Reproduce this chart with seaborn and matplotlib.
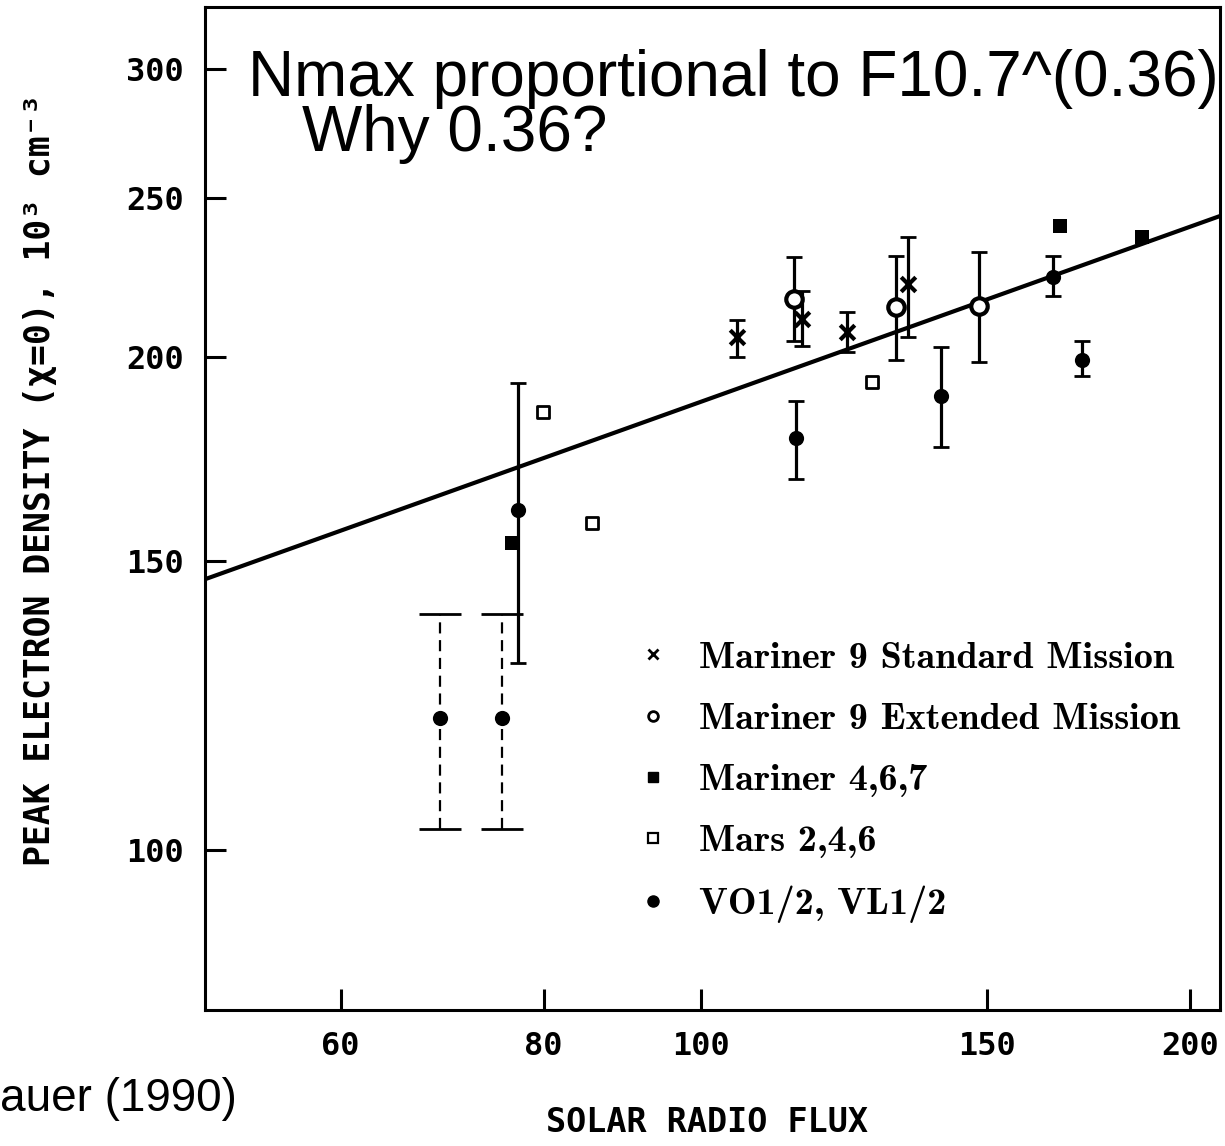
import numpy as np
import pandas as pd
import matplotlib
matplotlib.use("Agg")
import matplotlib.pyplot as plt
import seaborn as sns
from matplotlib.lines import Line2D
from matplotlib.ticker import FixedLocator, FixedFormatter, NullLocator

# ---------------- data ----------------
std_flux = [105.2, 115.4, 123.0, 134.1]
std_dens = [205.7, 211.0, 207.2, 221.6]
std_lo = [200.0, 203.1, 201.4, 205.7]
std_hi = [210.7, 219.5, 213.1, 236.7]

ext_flux = [114.1, 131.8, 148.3]
ext_dens = [217.0, 214.5, 214.8]
ext_lo = [204.5, 199.3, 198.6]
ext_hi = [230.2, 230.5, 231.8]

m467_flux = [76.5, 166.4, 186.9]
m467_dens = [153.9, 240.4, 236.7]

mars_flux = [79.9, 85.7, 127.4]
mars_dens = [185.0, 158.3, 193.0]

vo_flux = [77.2, 114.4, 140.5, 164.7, 171.7]
vo_dens = [161.2, 178.4, 189.3, 223.8, 199.3]
vo_lo = [130.1, 168.4, 176.2, 217.9, 194.7]
vo_hi = [192.8, 187.9, 202.8, 230.5, 204.5]

vod_flux = [69.1, 75.4]
vod_dens = [120.4, 120.4]
vod_lo = [102.9, 102.9]
vod_hi = [139.3, 139.3]

fit_flux = [49.5, 208.7]
fit_dens = [146.3, 243.9]

x_ticks = [60, 80, 100, 150, 200]
y_ticks = [100, 150, 200, 250, 300]

legend_labels = ["Mariner 9 Standard Mission", "Mariner 9 Extended Mission",
                 "Mariner 4,6,7", "Mars 2,4,6", "VO1/2, VL1/2"]

# ---------------- figure ----------------
sns.set_style("white")
plt.rcParams["font.family"] = ["DejaVu Sans Mono", "DejaVu Sans"]
plt.rcParams["text.color"] = "black"
plt.rcParams["axes.labelcolor"] = "black"
plt.rcParams["xtick.color"] = "black"
plt.rcParams["ytick.color"] = "black"
plt.rcParams["xtick.direction"] = "in"
plt.rcParams["ytick.direction"] = "in"
plt.rcParams["xtick.bottom"] = True
plt.rcParams["ytick.left"] = True

fig = plt.figure(figsize=(12.25, 11.46), dpi=100)
ax = fig.add_axes([205 / 1225, 1 - 1010 / 1146, 1015 / 1225, 1003 / 1146])
ax.set_xscale("log")
ax.set_yscale("log")

# fit line
sns.lineplot(x=fit_flux, y=fit_dens, ax=ax, color="black", linewidth=3, zorder=2)


def errbars(x, y, lo, hi, caps=6, dashed=False):
    y = np.asarray(y)
    err = [y - np.asarray(lo), np.asarray(hi) - y]
    eb = ax.errorbar(x, y, yerr=err, fmt="none", ecolor="black",
                     elinewidth=1.6 if dashed else 2.3, capsize=caps,
                     capthick=2.0, zorder=2)
    if dashed:
        for lc in eb[2]:
            lc.set_linestyle((0, (5, 3)))
    return eb


errbars(std_flux, std_dens, std_lo, std_hi)
errbars(ext_flux, ext_dens, ext_lo, ext_hi)
errbars(vo_flux, vo_dens, vo_lo, vo_hi)
errbars(vod_flux, vod_dens, vod_lo, vod_hi, caps=15, dashed=True)

# markers
sns.scatterplot(x=std_flux, y=std_dens, ax=ax, marker="x", s=110,
                color="black", linewidth=3, zorder=3)
sns.scatterplot(x=ext_flux, y=ext_dens, ax=ax, marker="o", s=140,
                color="white", edgecolor="black", linewidth=3, zorder=3)
sns.scatterplot(x=m467_flux, y=m467_dens, ax=ax, marker="s", s=110,
                color="black", edgecolor="black", linewidth=0, zorder=3)
sns.scatterplot(x=mars_flux, y=mars_dens, ax=ax, marker="s", s=70,
                color="white", edgecolor="black", linewidth=2, zorder=3)
sns.scatterplot(x=vo_flux, y=vo_dens, ax=ax, marker="o", s=120,
                color="black", edgecolor="black", linewidth=0, zorder=3)
sns.scatterplot(x=vod_flux, y=vod_dens, ax=ax, marker="o", s=120,
                color="black", edgecolor="black", linewidth=0, zorder=3)

ax.set_xlim(49.5, 208.7)
ax.set_ylim(79.8, 327.3)

ax.xaxis.set_major_locator(FixedLocator(x_ticks))
ax.xaxis.set_major_formatter(FixedFormatter([str(t) for t in x_ticks]))
ax.yaxis.set_major_locator(FixedLocator(y_ticks))
ax.yaxis.set_major_formatter(FixedFormatter([str(t) for t in y_ticks]))
ax.xaxis.set_minor_locator(NullLocator())
ax.yaxis.set_minor_locator(NullLocator())
ax.tick_params(axis="both", which="major", direction="in", length=15, width=2.2,
               labelsize=23, pad=15, colors="black",
               bottom=True, left=True, top=False, right=False)
for lab in ax.get_xticklabels() + ax.get_yticklabels():
    lab.set_fontfamily("DejaVu Sans Mono")
    lab.set_fontweight("bold")

for sp in ax.spines.values():
    sp.set_visible(True)
    sp.set_linewidth(2.2)
    sp.set_color("black")

# legend
handles = [
    Line2D([], [], ls="none", marker="x", ms=7, mew=2, color="black"),
    Line2D([], [], ls="none", marker="o", ms=7, mew=2, mfc="white", mec="black"),
    Line2D([], [], ls="none", marker="s", ms=7, mfc="black", mec="black"),
    Line2D([], [], ls="none", marker="s", ms=7, mew=1.6, mfc="white", mec="black"),
    Line2D([], [], ls="none", marker="o", ms=8, mfc="black", mec="black"),
]
leg = ax.legend(handles, legend_labels, loc="upper left",
                bbox_to_anchor=((634 - 205) / 1015, (1010 - 641) / 1003),
                frameon=False, borderpad=0, borderaxespad=0,
                handlelength=1.0, handletextpad=0.7, labelspacing=0.72,
                prop={"family": "cmb10", "size": 27.5})
for t in leg.get_texts():
    t.set_color("black")

# axis labels
fig.text(707 / 1225, 1 - 1122 / 1146, "SOLAR RADIO FLUX", ha="center", va="center",
         fontsize=24, fontweight="bold", color="black",
         family=["DejaVu Sans Mono", "DejaVu Sans"])
fig.text(40 / 1225, 1 - 480 / 1146, "PEAK ELECTRON DENSITY (χ=0), 10³ cm⁻³",
         rotation=90, ha="center", va="center", fontsize=25, fontweight="bold",
         color="black", family=["DejaVu Sans Mono", "DejaVu Sans"])

# overlay annotations
fig.text(248 / 1225, 1 - 96 / 1146, "Nmax proportional to F10.7^(0.36)",
         ha="left", va="baseline", fontsize=46, color="black", family="Liberation Sans")
fig.text(302 / 1225, 1 - 151 / 1146, "Why 0.36?",
         ha="left", va="baseline", fontsize=46, color="black", family="Liberation Sans")
fig.text(0, 1 - 1111 / 1146, "auer (1990)",
         ha="left", va="baseline", fontsize=33, color="black", family="Liberation Sans")

fig.savefig("out.png", dpi=100)
